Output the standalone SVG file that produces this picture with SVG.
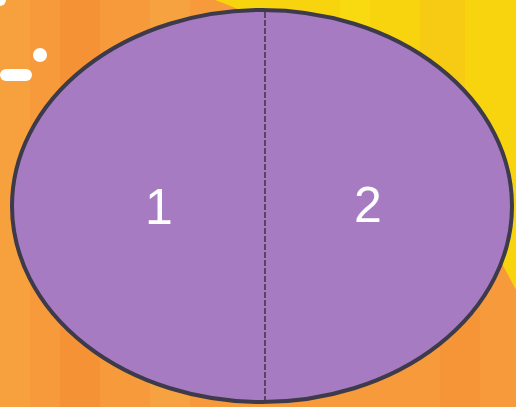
<svg xmlns="http://www.w3.org/2000/svg" width="516" height="407" viewBox="0 0 516 407">
<style>
.lbl{font-family:"Liberation Sans","DejaVu Sans",sans-serif;font-size:50px;fill:#ffffff;text-anchor:middle}
</style>
<g id="background">
<rect x="0" y="0" width="516" height="407" fill="#F69A3B"/>
<rect x="0" y="0" width="30" height="407" fill="#F7A03E"/>
<rect x="60" y="0" width="40" height="407" fill="#F49235"/>
<rect x="150" y="0" width="40" height="407" fill="#F7A240"/>
<rect x="440" y="0" width="40" height="407" fill="#F59538"/>
<path d="M215 0 L516 0 L516 290 C470 200 380 60 215 0 Z" fill="#F8D40E"/>
<rect x="420" y="0" width="45" height="200" fill="#F7C418" opacity="0.6"/>
<rect x="340" y="0" width="30" height="120" fill="#F9DC10" opacity="0.7"/>
<circle cx="40" cy="55" r="7" fill="#FFFFFF"/>
<rect x="0" y="69" width="32" height="12" rx="6" fill="#FFFFFF"/>
<circle cx="0" cy="0" r="6" fill="#FFFFFF"/>
</g>
<g id="ellipse">
<ellipse cx="262" cy="206" rx="250" ry="196" fill="#A77BC2" stroke="#3D3A4C" stroke-width="4"/>
</g>
<g id="connectors">
<line x1="265" y1="12" x2="265" y2="401" stroke="#3D3A4C" stroke-width="1.6" stroke-dasharray="6 2"/>
</g>
<g id="node1">
<text class="lbl" x="159" y="224">1</text>
</g>
<g id="node2">
<text class="lbl" x="368" y="222">2</text>
</g>
</svg>
